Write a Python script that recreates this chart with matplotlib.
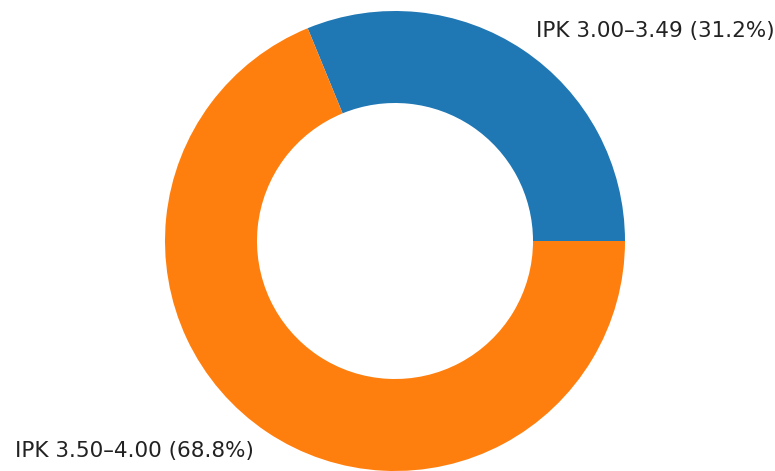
import matplotlib.pyplot as plt

labels = ["IPK 3.00–3.49", "IPK 3.50–4.00"]
shares = [31.2, 68.8]
colors = ["#1f77b4", "#ff7f0e"]

fig = plt.figure(figsize=(7.75, 4.71), dpi=100)
ax = fig.add_axes([107.5 / 775, -57.5 / 471, 575 / 775, 575 / 471])

pie_labels = [f"{l} ({s}%)" for l, s in zip(labels, shares)]
ax.pie(shares, labels=pie_labels, colors=colors, startangle=0,
       wedgeprops=dict(width=0.4), textprops=dict(fontsize=15.5, color="#222222"))
ax.set_aspect("equal")

fig.savefig("out.png", dpi=100)
